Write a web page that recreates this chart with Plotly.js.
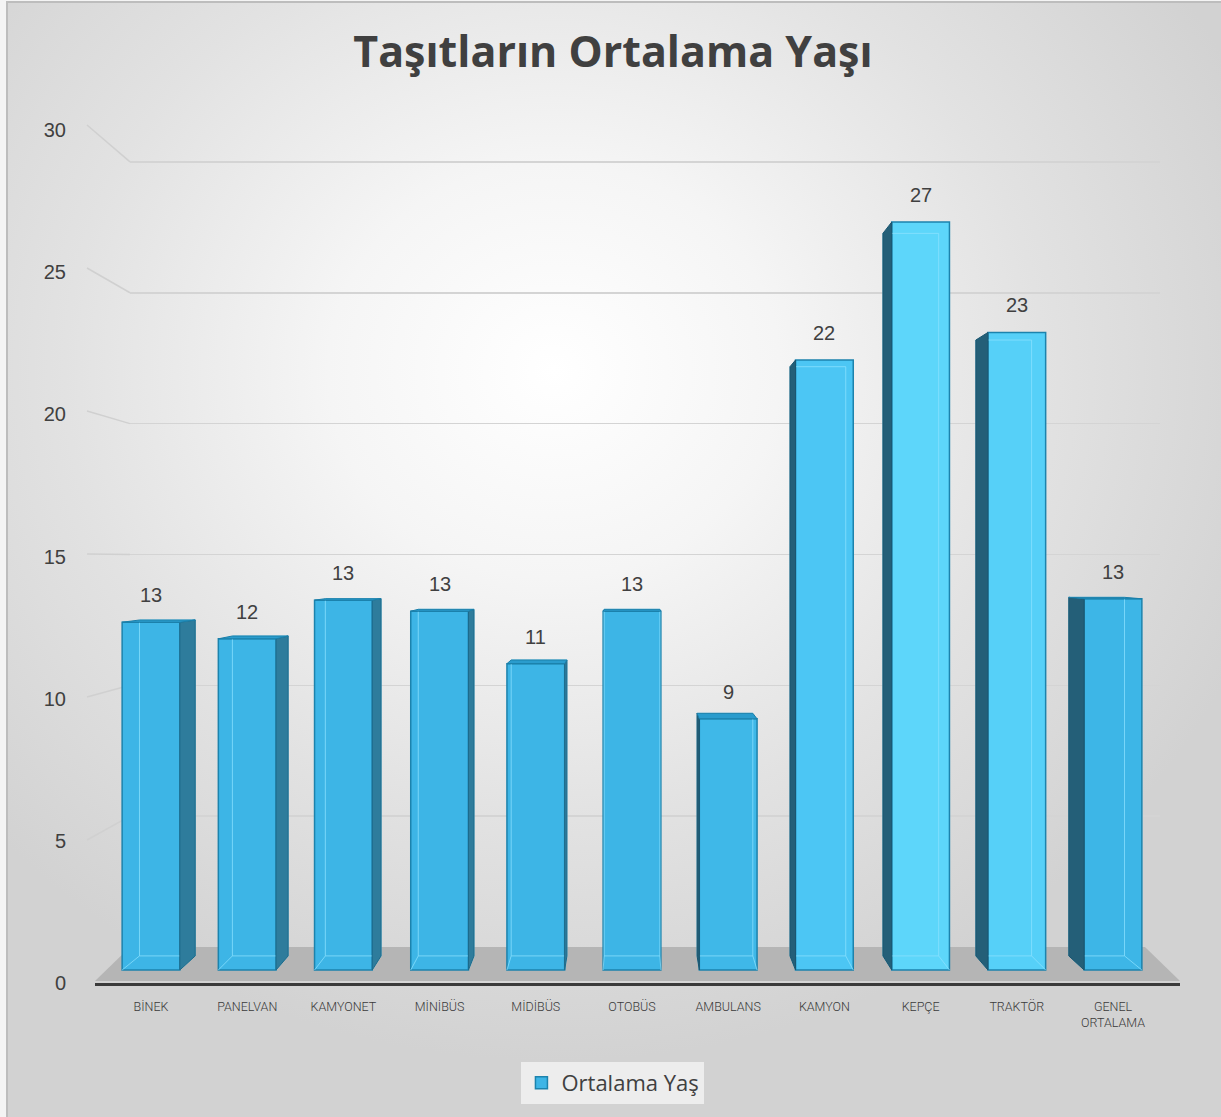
<!DOCTYPE html>
<html>
<head>
<meta charset="utf-8">
<script src="https://cdn.plot.ly/plotly-3.0.1.min.js"></script>
<style>
  html, body { margin:0; padding:0; width:1221px; height:1117px; overflow:hidden; background:#f4f4f4; }
  #bg { position:absolute; left:6px; top:1px; width:1215px; height:1116px;
        border-left:2px solid #bdbdbd; border-top:2px solid #bdbdbd; box-sizing:border-box;
        background: radial-gradient(ellipse 62% 62% at 45% 33%, #ffffff 0%, #f5f5f5 30%, #e2e2e2 65%, #d2d2d2 100%); }
  #chart { position:absolute; left:0; top:0; width:1221px; height:1117px; }
</style>
</head>
<body>
<div id="bg"></div>
<div id="chart"></div>
<script>
// ---- data ----
const categories = ['BİNEK','PANELVAN','KAMYONET','MİNİBÜS','MİDİBÜS','OTOBÜS','AMBULANS','KAMYON','KEPÇE','TRAKTÖR','GENEL<br>ORTALAMA'];
const values = [12.6, 12.0, 13.4, 13.0, 11.1, 13.0, 9.1, 22.1, 27.1, 23.1, 13.45];
const yTicks = [0, 5, 10, 15, 20, 25, 30];
const seriesName = 'Ortalama Yaş';
const chartTitle = 'Taşıtların Ortalama Yaşı';

// ---- style ----
const barColors = ['#3db5e6','#3db5e6','#3db5e6','#3db5e6','#3db5e6','#3db5e6','#3fb8e8','#4cc6f4','#5dd6fa','#56d0f8','#3db6e7'];
const W = 1221, H = 1117;
const fx = p => p / W, fy = p => 1 - p / H;
const idx = categories.map((_, i) => i);

// geometry of the pseudo-3D view (pixels)
const barY0 = 970, barPPU = 27.6;          // bar plane
const frontY0 = 983, frontPPU = 28.6;      // front wall edge (diagonals)
const labelPPU = 28.43;                    // tick label spacing
const backY0 = 947, backPPU = 26.17;       // back wall (gridlines)
const xL = 95, xR = 1180, x0c = 151, xStep = 96.2;
const barW = 0.6, k = 0.034, vx = 5, vy = 15;

const persp = (x, y) => [x + k * (vx - x), y + k * (vy - y)];
const pt = p => p[0] + ',' + p[1];

const shapes = [];
// floor
shapes.push({type:'path', xref:'paper', yref:'paper', layer:'below',
  path:`M ${fx(xL)},${fy(frontY0-2)} L ${fx(130)},${fy(backY0)} L ${fx(1145)},${fy(backY0)} L ${fx(xR)},${fy(frontY0-2)} Z`,
  fillcolor:'#b5b5b5', line:{width:0}});
// left wall diagonal grid lines
yTicks.filter(t => t > 0).forEach(t => {
  shapes.push({type:'line', xref:'paper', yref:'paper', layer:'below',
    x0:fx(87), y0:fy(frontY0 - frontPPU*t), x1:fx(130), y1:fy(backY0 - backPPU*t),
    line:{color:'#d0d0d0', width:1.5}});
});
// bar depth faces
values.forEach((v, i) => {
  const xl = i - barW/2, xr = i + barW/2;
  const FBL=[xl,0], FBR=[xr,0], FTR=[xr,v], FTL=[xl,v];
  const BBL=persp(...FBL), BBR=persp(...FBR), BTR=persp(...FTR), BTL=persp(...FTL);
  shapes.push({type:'path', xref:'x2', yref:'y2', layer:'above',
    path:`M ${pt(BBL)} L ${pt(BTL)} L ${pt(BTR)} L ${pt(BBR)} Z M ${pt(FBL)} L ${pt(BBL)} M ${pt(FBR)} L ${pt(BBR)}`,
    line:{color:'rgba(140,225,255,0.75)', width:1}});
  if (i < vx) {
    shapes.push({type:'path', xref:'x2', yref:'y2', layer:'above',
      path:`M ${pt(FBR)} L ${pt(FTR)} L ${pt(BTR)} L ${pt(BBR)} Z`,
      fillcolor:'#2e7c9c', line:{color:'#1d6a8a', width:1}});
  } else if (i > vx) {
    shapes.push({type:'path', xref:'x2', yref:'y2', layer:'above',
      path:`M ${pt(FBL)} L ${pt(FTL)} L ${pt(BTL)} L ${pt(BBL)} Z`,
      fillcolor:'#245f78', line:{color:'#1a5670', width:1}});
  }
  if (v < vy) {
    shapes.push({type:'path', xref:'x2', yref:'y2', layer:'above',
      path:`M ${pt(FTL)} L ${pt(FTR)} L ${pt(BTR)} L ${pt(BTL)} Z`,
      fillcolor:'#2a9ccd', line:{color:'#1b7fa9', width:1}});
  }
});

const annotations = values.map((v, i) => ({
  x: i, y: v, xref:'x2', yref:'y2', text: String(Math.round(v)), showarrow:false,
  yshift: 27, yanchor:'middle',
  font:{family:'Liberation Sans, Arial, sans-serif', size:20, color:'#404040'}
}));

const traces = [
  {type:'scatter', mode:'markers', x:[0.5], y:[values[0]], xaxis:'x', yaxis:'y',
   marker:{opacity:0}, hoverinfo:'skip', showlegend:false},
  {type:'bar', x: idx, y: values, width: barW, name: seriesName, xaxis:'x2', yaxis:'y2',
   marker:{color: barColors, line:{color:'#1c83ad', width:1.5}},
   hoverinfo:'skip', showlegend:true},
  {type:'scatter', mode:'markers', x: idx, y: values, xaxis:'x2', yaxis:'y3',
   marker:{opacity:0}, hoverinfo:'skip', showlegend:false}
];

const layout = {
  width: W, height: H,
  margin:{l:0, r:0, t:0, b:0},
  paper_bgcolor:'rgba(0,0,0,0)', plot_bgcolor:'rgba(0,0,0,0)',
  title:{text: chartTitle, x:0.502, xanchor:'center', y: fy(52), yanchor:'middle', yref:'container',
    font:{family:'Open Sans, sans-serif', size:43, weight:700, color:'#404040'}},
  showlegend:true,
  legend:{orientation:'h', x:0.502, xanchor:'center', y: fy(1062), yanchor:'top',
    bgcolor:'rgba(242,242,242,0.85)', borderwidth:0,
    font:{family:'Open Sans, sans-serif', size:22, color:'#404040'}},
  // back wall (gridlines)
  xaxis:{domain:[fx(130), fx(1160)], range:[0,1], anchor:'y', showgrid:false, zeroline:false,
    showticklabels:false, showline:false, fixedrange:true},
  yaxis:{domain:[fy(backY0), fy(backY0 - 30.5*backPPU)], range:[0, 30.5], anchor:'x',
    tickmode:'array', tickvals: yTicks.filter(t => t > 0), showticklabels:false, ticks:'',
    showgrid:true, gridcolor:'#d4d4d4', gridwidth:1.5, zeroline:false, showline:false, fixedrange:true},
  // bars
  xaxis2:{domain:[fx(xL), fx(xR)], range:[(xL-x0c)/xStep, (xR-x0c)/xStep], anchor:'y2',
    tickmode:'array', tickvals: idx, ticktext: categories,
    ticks:'outside', ticklen:10, tickcolor:'rgba(0,0,0,0)',
    tickfont:{family:'Roboto, sans-serif', size:12.5, weight:300, color:'#3a3a3a'},
    showgrid:false, zeroline:false, showline:true, linecolor:'#3a3a3a', linewidth:3, fixedrange:true},
  yaxis2:{domain:[fy(barY0 + 0.47*barPPU), fy(barY0 - 30.5*barPPU)], range:[-0.47, 30.5], anchor:'x2',
    showgrid:false, zeroline:false, showticklabels:false, showline:false, fixedrange:true},
  // front-edge tick labels
  yaxis3:{domain:[fy(frontY0), fy(frontY0 - 30*labelPPU)], range:[0, 30], anchor:'free', position: fx(66),
    tickmode:'array', tickvals: yTicks, ticks:'', showgrid:false, zeroline:false, showline:false,
    tickfont:{family:'Liberation Sans, Arial, sans-serif', size:20, color:'#404040'}, fixedrange:true},
  shapes: shapes,
  annotations: annotations,
  bargap: 0.4
};

Plotly.newPlot('chart', traces, layout, {displayModeBar:false, staticPlot:true});
</script>
</body>
</html>
